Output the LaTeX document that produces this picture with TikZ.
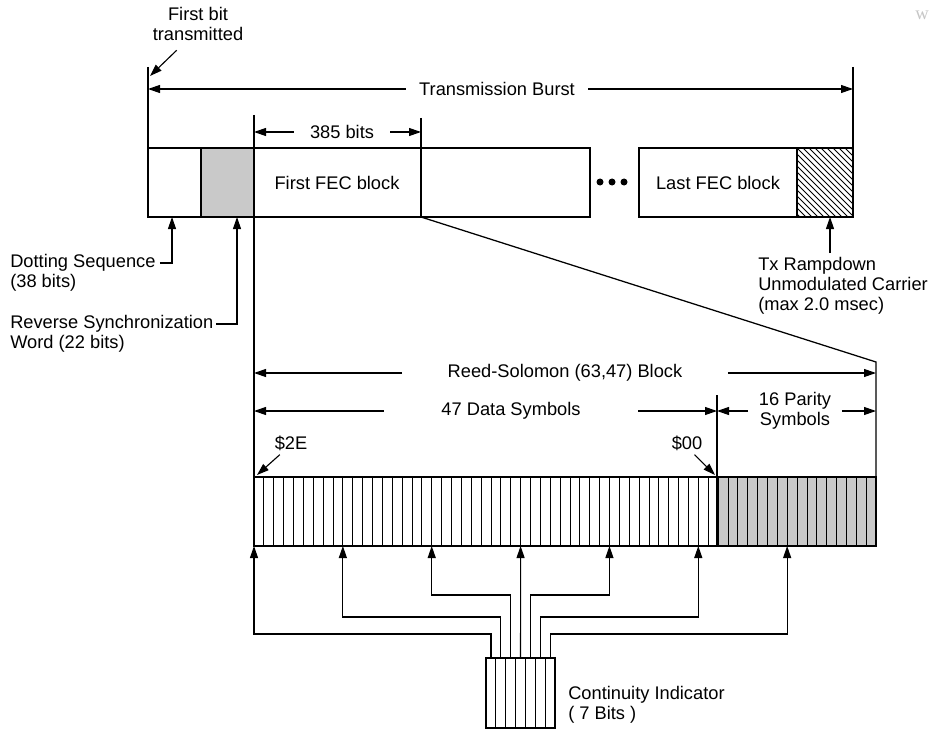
\documentclass[tikz,border=0pt]{standalone}
\usepackage{fontspec}
\setmainfont{Liberation Sans}
\newfontfamily\markfont{Liberation Serif}
\usepackage{xcolor}
\usepackage{tikz}
\usetikzlibrary{arrows.meta,positioning}

\tikzset{
  lbl/.style={font=\fontsize{13.7}{15}\selectfont, inner sep=0pt},
  dimarrow/.style={-{Triangle[length=9pt,width=6pt]}, line width=0.85pt},
  box/.style={line width=0.95pt},
  cell/.style={line width=0.6pt},
}

\begin{document}
\begin{tikzpicture}[x=0.75pt, y=-0.75pt]
  \useasboundingbox (0,0) rectangle (931,731);

  % Burst frame: dotting, sync word, FEC blocks, rampdown
  \fill[gray!42] (201,148) rectangle (254,217);
  \begin{scope}
    \clip (797,148) rectangle (853,217);
    \foreach \hx in {725,731,...,855}
      \draw[line width=0.6pt] (\hx,148) -- ++(69,69);
  \end{scope}
  \draw[box] (148,148) rectangle (590,217);
  \draw[box] (201,148) -- (201,217);
  \draw[box] (421,148) -- (421,217);
  \draw[box] (639,148) rectangle (853,217);
  \draw[box] (797,148) -- (797,217);
  \node[lbl] (firstfec) at (337,183) {First FEC block};
  \node[lbl] (lastfec) at (718,183) {Last FEC block};
  \fill (600,182) circle (3.5) (612,182) circle (3.5) (624,182) circle (3.5);

  % Extension lines
  \draw[box] (148,67) -- (148,148);
  \draw[box] (853,67) -- (853,148);
  \draw[box] (254,115) -- (254,477);
  \draw[box] (421,118) -- (421,148);
  \draw[box] (421,217) -- (876,362) -- (876,477);
  \draw[box] (717,395) -- (717,477);

  % First bit marker
  \node[lbl, align=center] (firstbit) at (198,24) {First bit\\transmitted};
  \coordinate (fbtip) at (150,76);
  \draw[dimarrow] ([xshift=-16pt,yshift=-7pt]firstbit.south) -- (fbtip);

  % Transmission burst span
  \coordinate (burstL) at (148,89);
  \coordinate (burstR) at (853,89);
  \node[lbl, inner xsep=10pt] (burst) at (497,89) {Transmission Burst};
  \draw[dimarrow] (burst.west) -- (burstL);
  \draw[dimarrow] (burst.east) -- (burstR);

  % FEC block length
  \coordinate (fecL) at (254,132);
  \coordinate (fecR) at (421,132);
  \node[lbl, inner xsep=12pt] (fecbits) at (342,132) {385 bits};
  \draw[dimarrow] (fecbits.west) -- (fecL);
  \draw[dimarrow] (fecbits.east) -- (fecR);

  % Preamble labels
  \coordinate (dottip) at (172,217);
  \coordinate (synctip) at (237,217);
  \node[lbl, anchor=west] (dotseq) at (10,263) {Dotting Sequence};
  \node[lbl, anchor=west] (dotbits) at (10,283) {(38 bits)};
  \node[lbl, anchor=west] (syncword) at (10,324) {Reverse Synchronization};
  \node[lbl, anchor=west] (syncbits) at (10,344) {Word (22 bits)};
  \draw[dimarrow] ([xshift=3pt]dotseq.east) -| (dottip);
  \draw[dimarrow] ([xshift=2pt]syncword.east) -| (synctip);

  % Rampdown label
  \coordinate (txtip) at (830,217);
  \node[lbl, align=left, anchor=north west] (txramp) at (758,257) {Tx Rampdown\\Unmodulated Carrier\\(max 2.0 msec)};
  \draw[dimarrow] ([yshift=3pt]txramp.north -| txtip) -- (txtip);

  % Reed-Solomon block spans
  \coordinate (rsL) at (254,373);
  \coordinate (rsR) at (876,373);
  \node[lbl, inner xsep=34pt] (rsblock) at (565,373) {Reed-Solomon (63,47) Block};
  \draw[dimarrow] (rsblock.west) -- (rsL);
  \draw[dimarrow] (rsblock.east) -- (rsR);
  \coordinate (dataL) at (254,411);
  \coordinate (dataR) at (717,411);
  \node[lbl, inner xsep=43pt] (datasym) at (511,411) {47 Data Symbols};
  \draw[dimarrow] (datasym.west) -- (dataL);
  \draw[dimarrow] (datasym.east) -- (dataR);
  \coordinate (parL) at (717,411);
  \coordinate (parR) at (876,411);
  \node[lbl, align=center, inner xsep=8pt] (paritysym) at (795,411) {16 Parity\\Symbols};
  \draw[dimarrow] (paritysym.west) -- (parL);
  \draw[dimarrow] (paritysym.east) -- (parR);

  % First and last data symbol values
  \node[lbl] (symfirst) at (291,443) {\$2E};
  \node[lbl] (symlast) at (687,443) {\$00};
  \coordinate (symfirsttip) at (257,475);
  \coordinate (symlasttip) at (715,475);
  \draw[dimarrow] ([xshift=4pt,yshift=-3pt]symfirst.south west) -- (symfirsttip);
  \draw[dimarrow] ([xshift=-6pt,yshift=-3pt]symlast.south east) -- (symlasttip);

  % Symbol cells (47 data, 16 parity)
  \fill[gray!42] (717.03,477) rectangle (876,546);
  \foreach \k in {1,...,62}
    \draw[cell] ({254+\k*9.873},477) -- ++(0,69);
  \draw[box] (254,477) rectangle (876,546);
  \draw[box] (717.03,477) -- (717.03,546);

  % Continuity indicator bits
  \foreach \k in {1,...,6}
    \draw[cell] ({486+\k*9.873},658) -- ++(0,70);
  \draw[box] (486,658) rectangle (555.1,728);
  \node[lbl, align=left, anchor=west] (contind) at (568,705) {Continuity Indicator\\( 7 Bits )};

  % Bit routing into every ninth symbol
  \foreach \k in {0,...,6} {
    \coordinate (ci\k) at ({486+(\k+0.5)*9.873},658);
    \coordinate (sym\k) at ({254+9*\k*9.873},546);
  }
  \foreach \k/\rise in {0/24,1/41,2/63,4/63,5/41,6/24}
    \draw[dimarrow] (ci\k) -- ++(0,-\rise) -| (sym\k);
  \draw[dimarrow] (ci3) -- (sym3);

  % Corner mark
  \node[text=gray!45, font=\markfont\fontsize{14}{14}\selectfont, inner sep=0pt] (mark) at (922,15) {w};
\end{tikzpicture}
\end{document}
